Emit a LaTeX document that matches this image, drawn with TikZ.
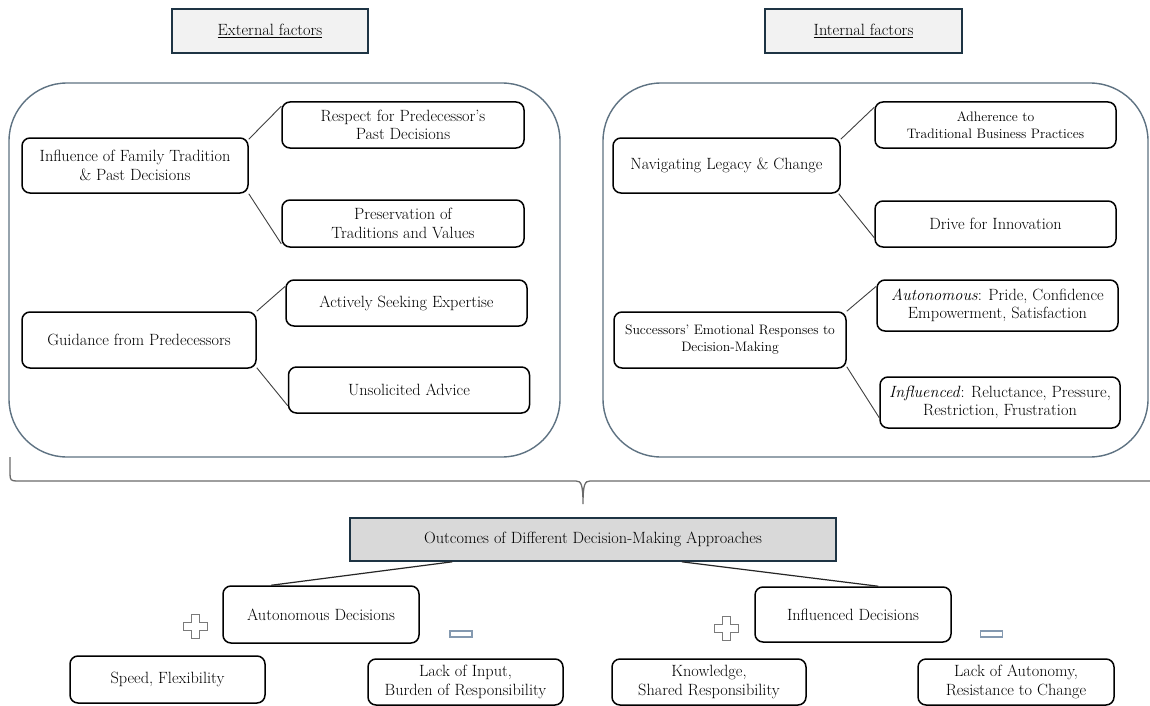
\documentclass[tikz,border=0pt]{standalone}
\usepackage{fontspec}
\usetikzlibrary{calc}
\definecolor{bigline}{HTML}{5E7282}
\definecolor{hdrline}{HTML}{1E3444}
\definecolor{hdrfill}{HTML}{F2F2F2}
\definecolor{outfill}{HTML}{D9D9D9}
\definecolor{bracecol}{HTML}{6A6A6A}
\definecolor{iconcol}{HTML}{7A7A7A}
\definecolor{minuscol}{HTML}{8499B0}
\tikzset{
  plusicon/.pic={\draw[iconcol, line width=0.9pt, fill=white] (-4,-12) -- (4,-12) -- (4,-4) -- (12,-4) -- (12,4) -- (4,4) -- (4,12) -- (-4,12) -- (-4,4) -- (-12,4) -- (-12,-4) -- (-4,-4) -- cycle;},
  minusicon/.pic={\draw[minuscol, line width=1.1pt, fill=white] (-11,-3) rectangle (11,3);}
}
\begin{document}
\begin{tikzpicture}[x=1pt,y=-1pt,
  every node/.style={font=\rmfamily\fontsize{16.3}{18.4}\selectfont\addfontfeatures{FakeBold=0.7}, inner sep=0pt, align=center},
  itembox/.style={draw=black, line width=1.5pt, rounded corners=8pt, fill=white},
  smalltext/.style={font=\rmfamily\fontsize{13.7}{17}\selectfont\addfontfeatures{FakeBold=0.7}},
  groupbox/.style={draw=bigline, line width=1.4pt, rounded corners=58pt},
  hdrbox/.style={draw=hdrline, fill=hdrfill, line width=1.6pt},
  outbox/.style={draw=hdrline, fill=outfill, line width=1.6pt},
  link/.style={draw=black!75, line width=0.9pt},
  outlink/.style={draw=black!85, line width=1.2pt},
  bracestyle/.style={draw=bracecol, line width=1.3pt}
]
\useasboundingbox[fill=white] (0,0) rectangle (1150,706);

% headers
\node[hdrbox, minimum width=196pt, minimum height=44pt] (ext) at (270,31) {\underline{External factors}};
\node[hdrbox, minimum width=197pt, minimum height=44pt] (int) at (863.5,31) {\underline{Internal factors}};

% group boxes
\node[groupbox, minimum width=551pt, minimum height=374pt] (leftgroup) at (284.5,270) {};
\node[groupbox, minimum width=545pt, minimum height=374pt] (rightgroup) at (875.5,270) {};

% left items
\node[itembox, minimum width=226pt, minimum height=55pt] (infl) at (135,165.5) {Influence of Family Tradition\\\& Past Decisions};
\node[itembox, minimum width=242pt, minimum height=46pt] (resp) at (403,125) {Respect for Predecessor’s\\Past Decisions};
\node[itembox, minimum width=242pt, minimum height=47pt] (pres) at (403,223.5) {Preservation of\\Traditions and Values};
\node[itembox, minimum width=241pt, minimum height=46pt] (act) at (406.5,303) {Actively Seeking Expertise};
\node[itembox, minimum width=234pt, minimum height=56pt] (guid) at (139,340) {Guidance from Predecessors};
\node[itembox, minimum width=241pt, minimum height=46pt] (unsol) at (409,390) {Unsolicited Advice};

\draw[link] ([yshift=-2pt]infl.north east) -- ([yshift=-5pt]resp.north west);
\draw[link] (infl.south east) -- ([yshift=4pt]pres.south west);
\draw[link] (guid.north east) -- ([yshift=-7pt]act.north west);
\draw[link] ([yshift=1pt]guid.south east) -- ([yshift=8pt]unsol.south west);

% right items
\node[itembox, minimum width=227pt, minimum height=55pt] (nav) at (726.5,165.5) {Navigating Legacy \& Change};
\node[itembox, smalltext, minimum width=241pt, minimum height=46pt] (adh) at (995.5,125) {Adherence to\\Traditional Business Practices};
\node[itembox, minimum width=241pt, minimum height=46pt] (drive) at (995.5,224) {Drive for Innovation};
\node[itembox, minimum width=241pt, minimum height=51pt] (autoemo) at (997.5,305.5) {\textit{Autonomous}: Pride, Confidence\\Empowerment, Satisfaction};
\node[itembox, smalltext, minimum width=232pt, minimum height=56pt] (succ) at (730,340) {Successors' Emotional Responses to\\Decision-Making};
\node[itembox, minimum width=240pt, minimum height=51pt] (inflemo) at (1000,402.5) {\textit{Influenced}: Reluctance, Pressure,\\Restriction, Frustration};

\draw[link] ([yshift=-2pt]nav.north east) -- ([yshift=-6pt]adh.north west);
\draw[link] ([xshift=-2pt]nav.south east) -- ([yshift=10pt]drive.south west);
\draw[link] (succ.north east) -- ([yshift=-7pt]autoemo.north west);
\draw[link] ([yshift=2pt]succ.south east) -- ([yshift=11pt]inflemo.south west);

% brace
\coordinate (bracetip) at (583,504);
\draw[bracestyle] (10,457) -- (10,474) .. controls (10,480) and (11,481) .. (17,481) -- (576,481) .. controls (581,481) and (583,484) .. (bracetip) .. controls (583,484) and (585,481) .. (590,481) -- (1152,481);

% outcomes
\node[outbox, minimum width=486pt, minimum height=43pt] (outc) at (593,539.5) {Outcomes of Different Decision-Making Approaches};
\node[itembox, minimum width=196pt, minimum height=57pt] (autodec) at (321,614.5) {Autonomous Decisions};
\node[itembox, minimum width=196pt, minimum height=55pt] (infldec) at (853,614.5) {Influenced Decisions};

\draw[outlink] ([xshift=103pt]outc.south west) -- ([xshift=49pt]autodec.north west);
\draw[outlink] ([xshift=-155pt]outc.south east) -- ([xshift=124pt]infldec.north west);

\node[itembox, minimum width=195pt, minimum height=47pt] (speed) at (167.5,679.5) {Speed, Flexibility};
\node[itembox, minimum width=195pt, minimum height=46pt] (lackin) at (465.5,682) {Lack of Input,\\Burden of Responsibility};
\node[itembox, minimum width=194pt, minimum height=46pt] (know) at (709,682) {Knowledge,\\Shared Responsibility};
\node[itembox, minimum width=196pt, minimum height=46pt] (lackaut) at (1016,682) {Lack of Autonomy,\\Resistance to Change};

% icons
\pic at (195,626.5) {plusicon};
\pic at (461,634) {minusicon};
\pic at (726,628) {plusicon};
\pic at (991.5,634) {minusicon};
\end{tikzpicture}
\end{document}
